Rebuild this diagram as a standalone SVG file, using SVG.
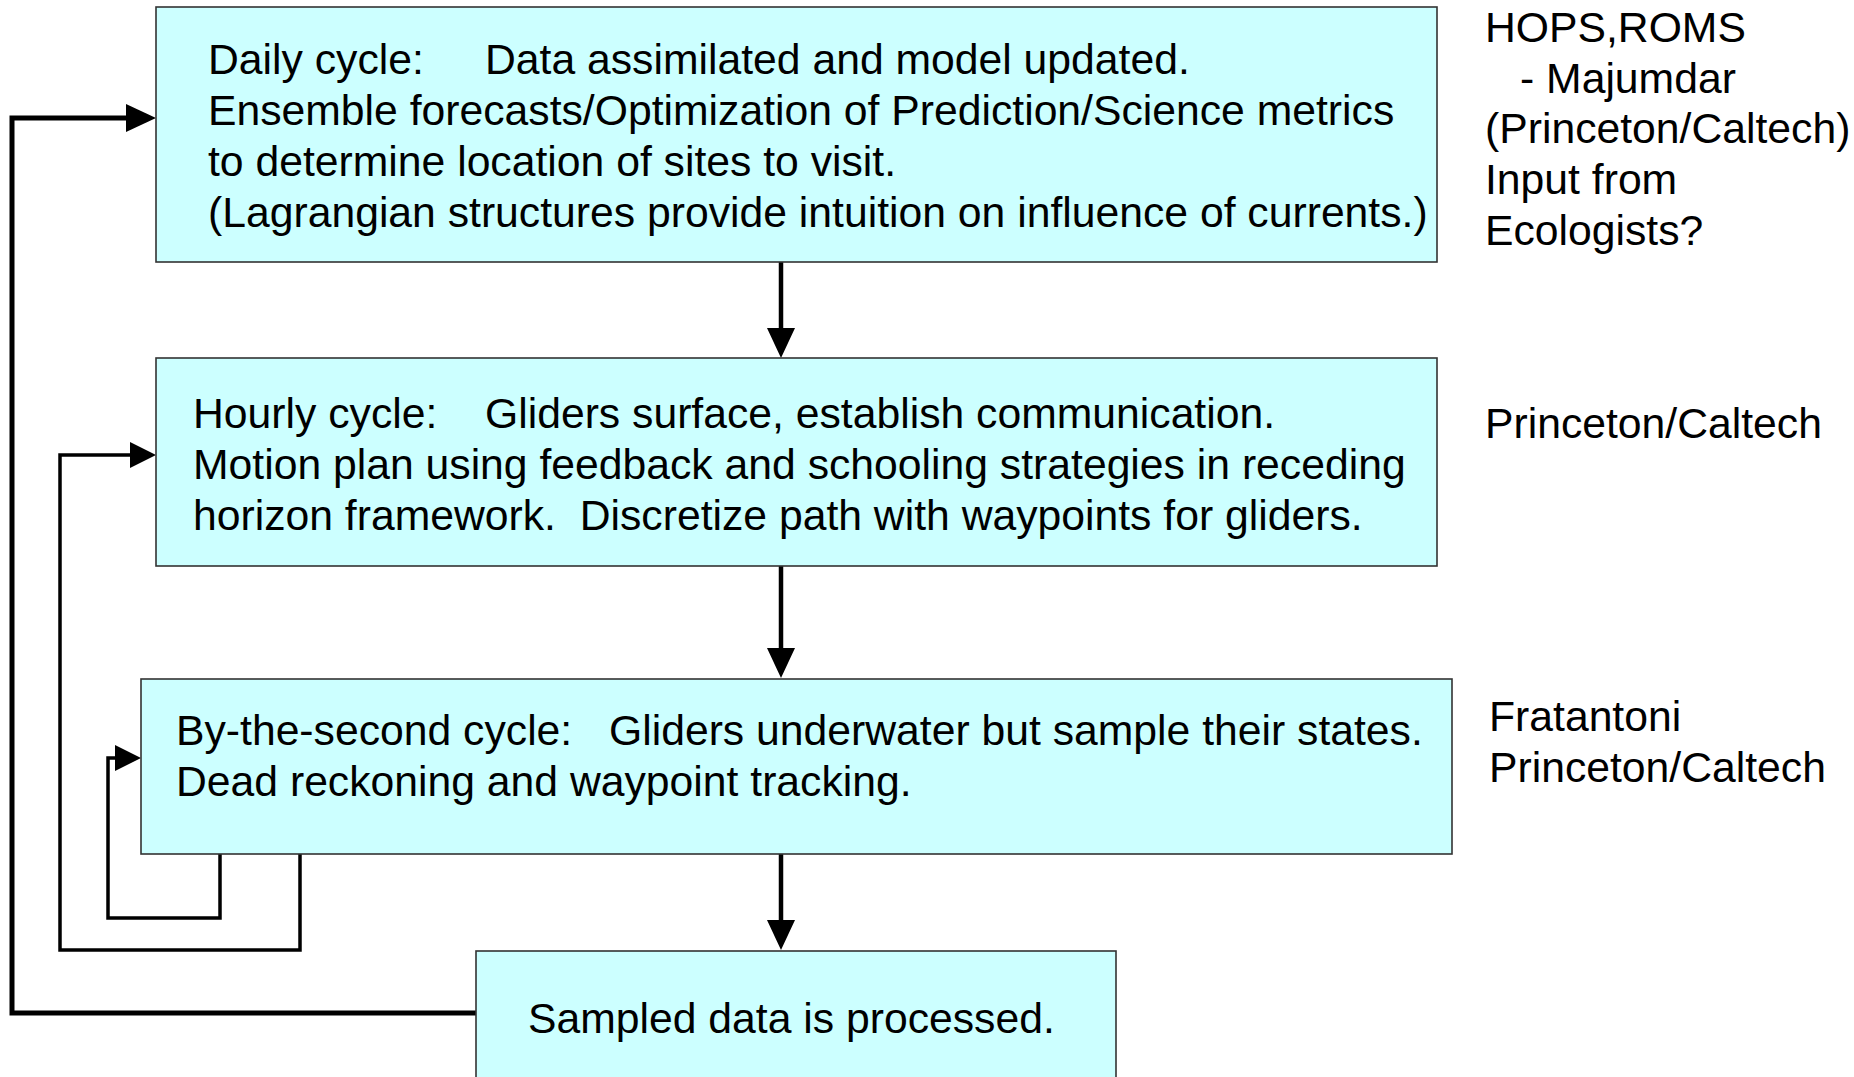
<svg xmlns="http://www.w3.org/2000/svg" width="1854" height="1077" viewBox="0 0 1854 1077">
<style>
.box{fill:#CCFFFF;stroke:#333333;stroke-width:1.6}
.t{font-family:"Liberation Sans",Arial,sans-serif;font-size:42.7px;fill:#000}
.ln{fill:none;stroke:#000;stroke-linejoin:miter;stroke-linecap:square}
</style>
<defs>
<marker id="big" markerUnits="userSpaceOnUse" markerWidth="30" markerHeight="28" refX="0" refY="14" orient="auto" overflow="visible"><path d="M0,0 L30,14 L0,28 Z" fill="#000"/></marker>
<marker id="mid" markerUnits="userSpaceOnUse" markerWidth="26" markerHeight="26" refX="0" refY="13" orient="auto" overflow="visible"><path d="M0,0 L26,13 L0,26 Z" fill="#000"/></marker>
</defs>
<rect width="1854" height="1077" fill="#fff"/>
<g id="connectors">
<path class="ln" d="M476,1013 H12 V118 H126" stroke-width="5" marker-end="url(#big)"/>
<path class="ln" d="M300,854 V950 H60 V455 H130" stroke-width="3.5" marker-end="url(#mid)"/>
<path class="ln" d="M220,854 V918 H108 V758 H115" stroke-width="3.5" marker-end="url(#mid)"/>
<path class="ln" d="M781,263 V328" stroke-width="4.5" marker-end="url(#big)"/>
<path class="ln" d="M781,567 V648" stroke-width="4.5" marker-end="url(#big)"/>
<path class="ln" d="M781,855 V920" stroke-width="4.5" marker-end="url(#big)"/>
</g>
<g id="daily">
<rect class="box" x="156" y="7" width="1281" height="255"/>
<text class="t"><tspan x="208" y="74">Daily cycle:</tspan><tspan x="485" y="74">Data assimilated and model updated.</tspan><tspan x="208" y="125">Ensemble forecasts/Optimization of Prediction/Science metrics</tspan><tspan x="208" y="176">to determine location of sites to visit.</tspan><tspan x="208" y="227">(Lagrangian structures provide intuition on influence of currents.)</tspan></text>
</g>
<g id="hourly">
<rect class="box" x="156" y="358" width="1281" height="208"/>
<text class="t" xml:space="preserve" style="white-space:pre"><tspan x="193" y="428">Hourly cycle:</tspan><tspan x="485" y="428">Gliders surface, establish communication.</tspan><tspan x="193" y="479">Motion plan using feedback and schooling strategies in receding</tspan><tspan x="193" y="530">horizon framework.  Discretize path with waypoints for gliders.</tspan></text>
</g>
<g id="second">
<rect class="box" x="141" y="679" width="1311" height="175"/>
<text class="t"><tspan x="176" y="745">By-the-second cycle:</tspan><tspan x="609" y="745">Gliders underwater but sample their states.</tspan><tspan x="176" y="796">Dead reckoning and waypoint tracking.</tspan></text>
</g>
<g id="processed">
<rect class="box" x="476" y="951" width="640" height="140"/>
<text class="t" x="528" y="1033">Sampled data is processed.</text>
</g>
<g id="labels">
<text class="t"><tspan x="1485" y="42">HOPS,ROMS</tspan><tspan x="1520" y="93">- Majumdar</tspan><tspan x="1485" y="143">(Princeton/Caltech)</tspan><tspan x="1485" y="194">Input from</tspan><tspan x="1485" y="245">Ecologists?</tspan></text>
<text class="t" x="1485" y="438">Princeton/Caltech</text>
<text class="t"><tspan x="1489" y="731">Fratantoni</tspan><tspan x="1489" y="782">Princeton/Caltech</tspan></text>
</g>
</svg>
